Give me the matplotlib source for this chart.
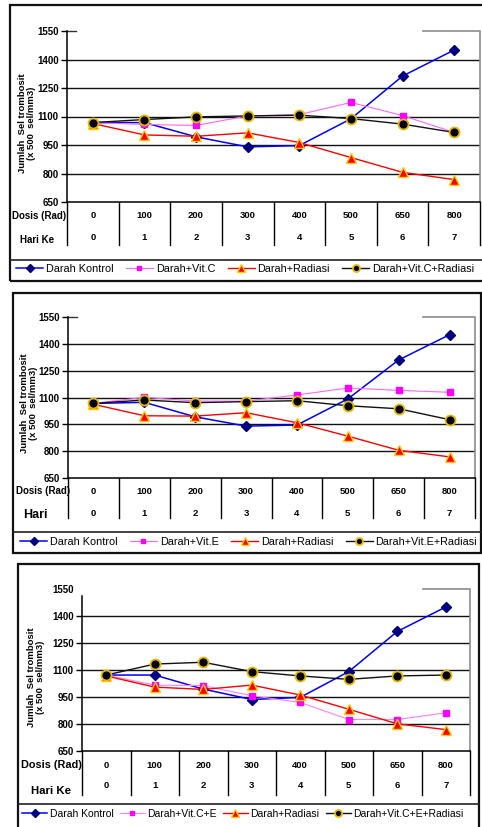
import matplotlib
matplotlib.use("Agg")
import matplotlib.pyplot as plt
from matplotlib.patches import Rectangle
from matplotlib.lines import Line2D
import matplotlib.transforms as mtransforms

plt.rcParams['font.family'] = ['Liberation Sans', 'DejaVu Sans']

W, H = 482, 827

dosis = [0, 100, 200, 300, 400, 500, 650, 800]
hari = [0, 1, 2, 3, 4, 5, 6, 7]
yticks = [650, 800, 950, 1100, 1250, 1400, 1550]

# panel 1: vitamin C
p1_kontrol = [1068, 1068, 993, 940, 947, 1088, 1313, 1450]
p1_vit = [1068, 1058, 1053, 1103, 1110, 1174, 1105, 1016]
p1_radiasi = [1063, 1003, 996, 1014, 963, 884, 806, 768]
p1_vit_rad = [1068, 1084, 1098, 1103, 1107, 1089, 1060, 1016]
p1_labels = ['Darah Kontrol', 'Darah+Vit.C', 'Darah+Radiasi', 'Darah+Vit.C+Radiasi']

# panel 2: vitamin E
p2_kontrol = [1067, 1073, 992, 940, 946, 1092, 1310, 1451]
p2_vit = [1067, 1101, 1080, 1080, 1114, 1153, 1140, 1129]
p2_radiasi = [1062, 998, 996, 1015, 959, 884, 805, 768]
p2_vit_rad = [1067, 1086, 1071, 1077, 1082, 1054, 1037, 976]
p2_labels = ['Darah Kontrol', 'Darah+Vit.E', 'Darah+Radiasi', 'Darah+Vit.E+Radiasi']

# panel 3: vitamin C + E
p3_kontrol = [1072, 1072, 994, 936, 948, 1091, 1314, 1450]
p3_vit = [1072, 1016, 1013, 957, 920, 825, 825, 862]
p3_radiasi = [1067, 1005, 992, 1016, 961, 882, 801, 769]
p3_vit_rad = [1072, 1133, 1143, 1091, 1067, 1048, 1067, 1072]
p3_labels = ['Darah Kontrol', 'Darah+Vit.C+E', 'Darah+Radiasi', 'Darah+Vit.C+E+Radiasi']


def fr(x0, y0, x1, y1):
    return [x0 / W, 1 - y1 / H, (x1 - x0) / W, (y1 - y0) / H]


def fx(x):
    return x / W


def fy(y):
    return 1 - y / H


fig = plt.figure(figsize=(W / 100, H / 100), dpi=100)


def frame(x0, y0, x1, y1, sep):
    fig.patches.append(Rectangle((fx(x0), fy(y1)), (x1 - x0) / W, (y1 - y0) / H,
                                 transform=fig.transFigure, fill=False,
                                 lw=1.6, ec='#111111'))
    fig.lines.append(Line2D([fx(x0), fx(x1)], [fy(sep), fy(sep)],
                            transform=fig.transFigure, color='#222222', lw=1.2))


def panel(box, series, labels, depth, row1, row2, ylab, leg, top_left=True,
          hari_label='Hari Ke', row_fs=(7, 7), leg_fs=7.8, leg_cs=1.15, leg_hl=2.5,
          colors2='#ff66ff'):
    x0, y0, x1, y1 = box
    ax = fig.add_axes(fr(x0, y0, x1, y1))
    axh = y1 - y0
    xs = list(range(len(dosis)))
    kontrol, vit, rad, vit_rad = series
    l1, = ax.plot(xs, kontrol, color='#0000ff', lw=1.1, marker='D', ms=5.3,
                  mfc='#000080', mec='#000080', zorder=3)
    l2, = ax.plot(xs, vit, color=colors2, lw=0.8, marker='s', ms=4.3,
                  mfc='#ff00ff', mec='#ff00ff', zorder=3)
    l3, = ax.plot(xs, rad, color='#ff0000', lw=1.0, marker='^', ms=7.8,
                  mfc='#ff0000', mec='#ffcc00', mew=1.0, zorder=4)
    l4, = ax.plot(xs, vit_rad, color='#111111', lw=1.0, marker='o', ms=7.2,
                  mfc='black', mec='#e6b800', mew=1.3, zorder=5)
    ax.set_xlim(-0.5, 7.5)
    ax.set_ylim(650, 1550)
    ax.set_xticks([])
    ax.set_yticks(yticks)
    ax.set_yticklabels([str(v) for v in yticks], fontsize=7, fontweight='bold')
    ax.tick_params(axis='y', length=4, width=1, pad=2, colors='black')
    for s in ['top', 'right']:
        ax.spines[s].set_visible(False)
    ax.spines['left'].set_linewidth(1.1)
    ax.spines['bottom'].set_linewidth(1.1)
    if not top_left:
        ax.spines['left'].set_bounds(650, 1510)
        ax.yaxis.get_major_ticks()[-1].tick1line.set_visible(False)
    for v in yticks[1:-1]:
        ax.axhline(v, color='#111111', lw=1.0, zorder=1)
    # broken top border and grey right border
    if top_left:
        ax.plot([0, 9 / (x1 - x0)], [1, 1], transform=ax.transAxes,
                color='#333333', lw=1.0, clip_on=False)
    gx = (423 - x0) / (x1 - x0)
    ax.plot([gx, 1, 1], [1, 1, 0], transform=ax.transAxes, color='#8c8c8c',
            lw=1.2, clip_on=False)
    # data table under the axis
    tr = mtransforms.blended_transform_factory(ax.transData, ax.transAxes)
    for k in range(len(dosis) + 1):
        ax.plot([k - 0.5, k - 0.5], [0, -depth / axh], transform=tr,
                color='black', lw=1.0, clip_on=False)
    for i, (d, h) in enumerate(zip(dosis, hari)):
        ax.text(i, -row1[1] / axh, str(d), transform=tr, ha='center',
                va='center', fontsize=6.8, fontweight='bold')
        ax.text(i, -row2[1] / axh, str(h), transform=tr, ha='center',
                va='center', fontsize=6.8, fontweight='bold')
    fig.text(fx(row1[0]), fy(y1 + row1[2]), 'Dosis (Rad)', ha='left',
             va='center', fontsize=row_fs[0], fontweight='bold')
    fig.text(fx(row2[0]), fy(y1 + row2[2]), hari_label, ha='left',
             va='center', fontsize=row_fs[1], fontweight='bold')
    fig.text(fx(ylab[0]), fy(ylab[1]), 'Jumlah  Sel trombosit\n(x 500  sel/mm3)',
             rotation=90, ha='center', va='center', fontsize=6.8,
             fontweight='bold', linespacing=1.1)
    fig.legend([l1, l2, l3, l4], labels, loc='center left',
               bbox_to_anchor=(fx(leg[0]), fy(leg[1])), ncol=4, frameon=False,
               fontsize=leg_fs, handlelength=leg_hl, handletextpad=0.25,
               columnspacing=leg_cs, borderpad=0, borderaxespad=0,
               markerscale=0.7, numpoints=1)
    return ax


# panel 1
frame(10, 5, 492, 281, 260)
panel((67, 31, 480, 202), (p1_kontrol, p1_vit, p1_radiasi, p1_vit_rad),
      p1_labels, 43, (12, 14, 14), (20, 36, 38), (27, 123), (16, 269))

# panel 2
frame(13, 293, 481, 553, 532)
panel((68, 317, 475, 478), (p2_kontrol, p2_vit, p2_radiasi, p2_vit_rad),
      p2_labels, 40, (16, 13, 13), (23, 36, 37), (29, 403), (20, 542),
      hari_label='Hari', row_fs=(7, 9))

# panel 3
frame(18, 564, 479, 840, 804)
panel((82, 589, 470, 751), (p3_kontrol, p3_vit, p3_radiasi, p3_vit_rad),
      p3_labels, 44, (21, 14, 14), (31, 35, 40), (36, 677), (22, 814),
      top_left=False, hari_label='Hari Ke', row_fs=(7.8, 8.2), leg_fs=7.5,
      leg_cs=0.6, leg_hl=2.4, colors2='#ff80ff')

fig.savefig('out.png', dpi=100)
